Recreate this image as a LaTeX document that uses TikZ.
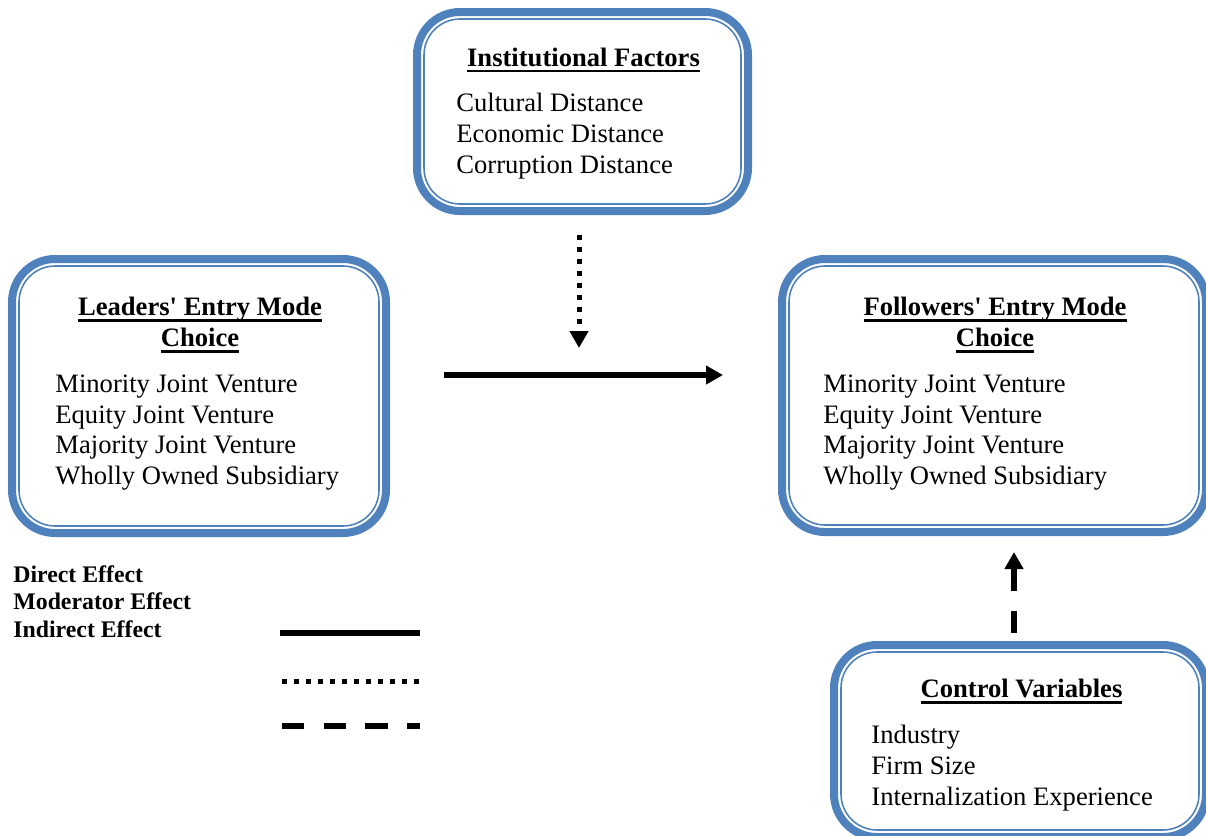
\documentclass[tikz,border=0pt]{standalone}
\usepackage{fontspec}
\setmainfont{Liberation Serif}[Ligatures=TeXOff]
\usetikzlibrary{arrows.meta}
\definecolor{boxblue}{HTML}{4F81BD}
\newcommand\myul[1]{\setbox0\hbox{#1}\rlap{\rule[-3pt]{\wd0}{1.2pt}}\box0}
\tikzset{
  thickbox/.style={draw=boxblue, line width=4pt, rounded corners=21.5pt, inner sep=0pt, rectangle},
  thinbox/.style={draw=boxblue, line width=0.8pt, rounded corners=18pt, inner sep=0pt, rectangle},
  txt/.style={inner sep=0pt, font=\fontsize{13.3}{15.5}\selectfont},
  item/.style={txt, anchor=base west},
  ttl/.style={txt, anchor=base, font=\fontsize{13.3}{15.5}\selectfont\bfseries},
  legtxt/.style={inner sep=0pt, anchor=base west, font=\fontsize{11.9}{13.5}\selectfont\bfseries},
  tip/.style={-{Triangle[width=9pt,length=8.5pt]}},
  solidline/.style={line width=3pt},
  dottedline/.style={line width=2.5pt, dash pattern=on 2.5pt off 3.5pt},
  dashedline/.style={line width=2.7pt, dash pattern=on 11.2pt off 9.6pt},
}
\begin{document}
\begin{tikzpicture}[x=0.5pt,y=-0.5pt]
\useasboundingbox (0,0) rectangle (1206,836);
\clip (0,0) rectangle (1206,836);

% boxes
\node[thickbox, minimum width=165.5pt, minimum height=99.5pt] (inst) at (582.5,111.5) {};
\node[thinbox, minimum width=158.5pt, minimum height=92.5pt] (inst-in) at (582.5,111.5) {};
\node[thickbox, minimum width=187pt, minimum height=137pt] (lead) at (199,396) {};
\node[thinbox, minimum width=180pt, minimum height=130pt] (lead-in) at (199,396) {};
\node[thickbox, minimum width=212pt, minimum height=136.5pt] (foll) at (994,395.5) {};
\node[thinbox, minimum width=205pt, minimum height=129.5pt] (foll-in) at (994,395.5) {};
\node[thickbox, minimum width=186pt, minimum height=96pt] (ctrl) at (1020,741) {};
\node[thinbox, minimum width=179pt, minimum height=89pt] (ctrl-in) at (1020,741) {};

% institutional text
\node[ttl] (inst-t) at (583.5,66) {\myul{Institutional Factors}};
\node[item] (inst-1) at (456,111.5) {Cultural Distance};
\node[item] (inst-2) at (456,142.5) {Economic Distance};
\node[item] (inst-3) at (456,173.5) {Corruption Distance};

% leaders text
\node[ttl] (lead-t1) at (200,315.5) {\myul{Leaders' Entry Mode}};
\node[ttl] (lead-t2) at (200,346.5) {\myul{Choice}};
\node[item] (lead-1) at (55,392.5) {Minority Joint Venture};
\node[item] (lead-2) at (55,423) {Equity Joint Venture};
\node[item] (lead-3) at (55,453.7) {Majority Joint Venture};
\node[item] (lead-4) at (55,484.5) {Wholly Owned Subsidiary};

% followers text
\node[ttl] (foll-t1) at (995,315.5) {\myul{Followers' Entry Mode}};
\node[ttl] (foll-t2) at (995,346.5) {\myul{Choice}};
\node[item] (foll-1) at (823,392.5) {Minority Joint Venture};
\node[item] (foll-2) at (823,423) {Equity Joint Venture};
\node[item] (foll-3) at (823,453.7) {Majority Joint Venture};
\node[item] (foll-4) at (823,484.5) {Wholly Owned Subsidiary};

% control text
\node[ttl] (ctrl-t) at (1021.5,697.5) {\myul{Control Variables}};
\node[item] (ctrl-1) at (871,743.5) {Industry};
\node[item] (ctrl-2) at (871,774.5) {Firm Size};
\node[item] (ctrl-3) at (871,805.5) {Internalization Experience};

% connectors
\coordinate (ds) at (579,235);
\coordinate (de) at (579,348);
\coordinate (ss) at (444,375);
\coordinate (se) at (723,375);
\coordinate (ks) at (1014,633);
\coordinate (ke) at (1014,552);
\draw[dottedline, tip] (ds) -- (de);
\draw[solidline, tip] (ss) -- (se);
\draw[dashedline, tip] (ks) -- (ke);

% legend
\node[legtxt] (leg1) at (13,582) {Direct Effect};
\node[legtxt] (leg2) at (13,609) {Moderator Effect};
\node[legtxt] (leg3) at (13,637) {Indirect Effect};
\coordinate (l1a) at (280,633);
\coordinate (l1b) at (420,633);
\coordinate (l2a) at (282,681);
\coordinate (l2b) at (420,681);
\coordinate (l3a) at (282,726);
\coordinate (l3b) at (420,726);
\draw[solidline] (l1a) -- (l1b);
\draw[dottedline] (l2a) -- (l2b);
\draw[dashedline] (l3a) -- (l3b);
\end{tikzpicture}
\end{document}
